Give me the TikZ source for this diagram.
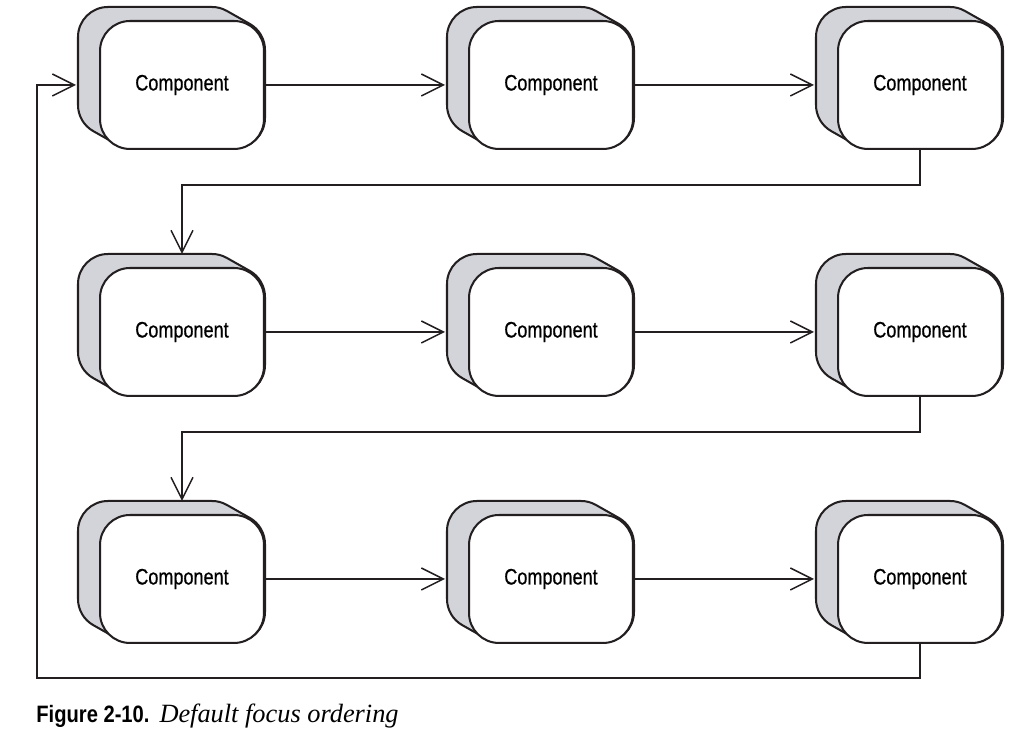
\documentclass[tikz,border=0pt]{standalone}
\usepackage{fontspec}
\newfontfamily\compfont[FakeStretch=0.81, FakeBold=0.7]{Liberation Sans}
\newfontfamily\figfont[FakeStretch=0.85]{Liberation Sans}
\newfontfamily\figserif{Liberation Serif}
\usetikzlibrary{arrows.meta, backgrounds, calc}
\definecolor{backgray}{RGB}{211,212,217}
\definecolor{inkline}{RGB}{35,31,32}

\begin{document}
\begin{tikzpicture}[x=0.02cm, y=0.02cm,
    >={Straight Barb[length=4.4mm, width=4.4mm]},
    comp/.style={draw=inkline, fill=white, rounded corners=6mm, line width=1.15pt,
                 minimum width=3.28cm, minimum height=2.56cm, inner sep=0pt,
                 font=\compfont\fontsize{12.7}{15}\selectfont},
    compback/.style={draw=inkline, fill=backgray, line width=1.15pt},
    flow/.style={->, draw=inkline, line width=0.85pt}]

  \useasboundingbox (0,0) rectangle (1029,732);

  % ---- three rows of three components (front faces)
  \foreach \r/\y in {1/647, 2/400, 3/153}
    \foreach \c/\x in {1/182, 2/551, 3/920}
      \node[comp] (c\r\c) at (\x,\y) {Component};

  % ---- the grey back of each one, pushed up and to the left
  \begin{scope}[on background layer]
    \foreach \r in {1,2,3}
      \foreach \c in {1,2,3}
        \draw[compback] ($(c\r\c.north east)+(0,-30)$)
          arc[start angle=0, end angle=60.5, radius=30] -- ++(-23,13)
          arc[start angle=60.5, end angle=90, radius=30] -- ++(-104,0)
          arc[start angle=90, end angle=180, radius=30] -- ++(0,-68)
          arc[start angle=180, end angle=240.5, radius=30] -- ++(23,-13)
          arc[start angle=240.5, end angle=270, radius=30] -- ++(104,0)
          arc[start angle=270, end angle=360, radius=30] -- cycle;
  \end{scope}

  % ---- left to right along each row
  \foreach \r in {1,2,3} {
    \draw[flow, shorten >=4.6mm] (c\r1) -- (c\r2);
    \draw[flow, shorten >=4.6mm] (c\r2) -- (c\r3);
  }

  % ---- end of a row back to the start of the next
  \draw[flow, shorten >=2.6mm] (c13.south) -- ++(0,-35) -| (c21.north);
  \draw[flow, shorten >=2.6mm] (c23.south) -- ++(0,-35) -| (c31.north);

  % ---- and from the last one round to the first
  \coordinate (loopturn) at (37,54);
  \draw[flow, shorten >=4.6mm] (c33.south) |- (loopturn) |- (c11.west);

  % ---- caption
  \node[anchor=base west, inner sep=0pt] (caption) at (36,9)
    {\figfont\fontsize{13.5}{16}\selectfont\bfseries Figure 2-10.\hspace{2mm}%
     \figserif\fontsize{15}{18}\selectfont\mdseries\itshape Default focus ordering};
\end{tikzpicture}
\end{document}
